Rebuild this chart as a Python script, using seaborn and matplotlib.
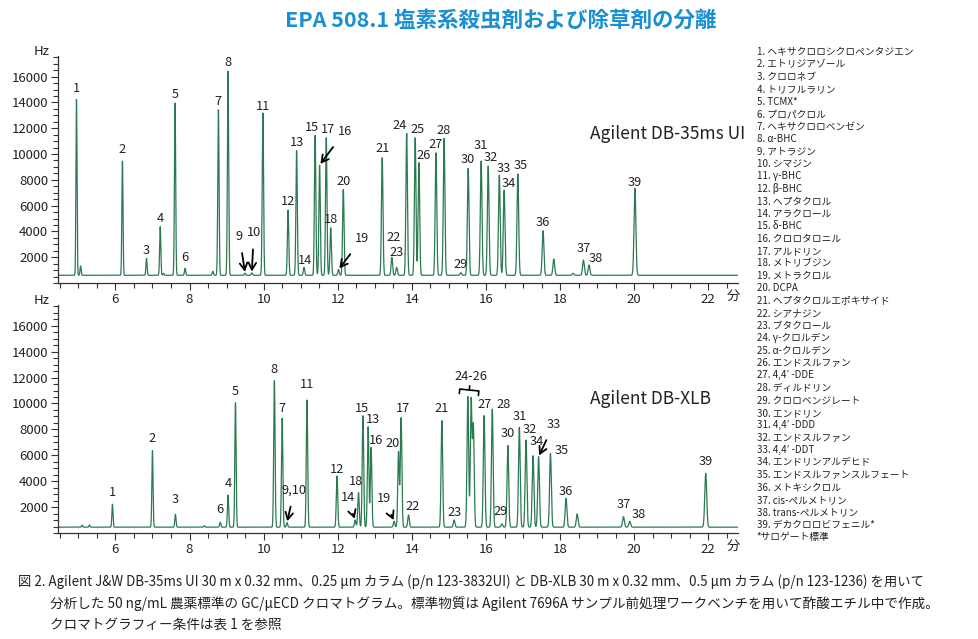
import numpy as np
import matplotlib
matplotlib.use("Agg")
import matplotlib.pyplot as plt
from matplotlib.ticker import MultipleLocator, FixedLocator
import seaborn as sns

# peak tables (retention time in min, apex in Hz)
top_labels = [str(i) for i in range(1, 40)]
top_rt = [4.95, 6.19, 6.84, 7.21, 7.61, 7.88, 8.78, 9.04, 9.50, 9.68,
          9.98, 10.66, 10.89, 11.09, 11.39, 11.51, 11.69, 11.81, 12.02, 12.15,
          13.20, 13.46, 13.59, 13.86, 14.09, 14.19, 14.65, 14.87, 15.32, 15.52,
          15.87, 16.06, 16.36, 16.49, 16.86, 17.54, 18.63, 18.78, 20.02]
top_hz = [14240, 9480, 1910, 4370, 13980, 1140, 13460, 16430, 760, 780,
          13200, 5660, 10260, 1220, 11450, 9150, 11260, 4290, 1050, 7260,
          9710, 1990, 1220, 11600, 11260, 9330, 10100, 11210, 800, 8890,
          9460, 9070, 8370, 7210, 8450, 4050, 1780, 1400, 7340]
top_minor_rt = [5.06, 7.30, 8.63, 17.83, 18.35]
top_minor_hz = [1320, 750, 900, 1860, 750]
top_base = 600

bot_labels = ["1", "2", "3", "4", "5", "6", "7", "8", "9,10", "11", "12", "13",
              "14", "15", "16", "17", "18", "19", "20", "21", "22", "23",
              "", "", "", "27", "28", "29", "30", "31", "32", "33", "34", "35",
              "36", "37", "38", "39"]
bot_rt = [5.92, 7.00, 7.62, 9.04, 9.24, 8.83, 10.50, 10.29, 10.63, 11.17, 11.98, 12.82,
          12.47, 12.68, 12.90, 13.71, 12.56, 13.52, 13.64, 14.81, 13.91, 15.14,
          15.51, 15.60, 15.66, 15.95, 16.17, 16.43, 16.59, 16.90, 17.08, 17.42, 17.27, 17.74,
          18.16, 19.71, 19.88, 21.93]
bot_hz = [2220, 6360, 1440, 2930, 10060, 830, 8850, 11760, 800, 10270, 4400, 8210,
          1000, 9060, 6620, 8900, 3140, 900, 6280, 8670, 1390, 1000,
          10530, 10270, 8260, 9060, 9570, 700, 6750, 8160, 7180, 5890, 5970, 6150,
          2680, 1260, 900, 4610]
bot_minor_rt = [5.10, 5.30, 8.40, 18.46]
bot_minor_hz = [600, 620, 560, 1470]
bot_base = 450

compounds = ["1. ヘキサクロロシクロペンタジエン", "2. エトリジアゾール", "3. クロロネブ",
             "4. トリフルラリン", "5. TCMX*", "6. プロパクロル", "7. ヘキサクロロベンゼン",
             "8. α-BHC", "9. アトラジン", "10. シマジン", "11. γ-BHC", "12. β-BHC",
             "13. ヘプタクロル", "14. アラクロール", "15. δ-BHC", "16. クロロタロニル",
             "17. アルドリン", "18. メトリブジン", "19. メトラクロル", "20. DCPA",
             "21. ヘプタクロルエポキサイド", "22. シアナジン", "23. ブタクロール",
             "24. γ-クロルデン", "25. α-クロルデン", "26. エンドスルファン", "27. 4,4’ -DDE",
             "28. ディルドリン", "29. クロロベンジレート", "30. エンドリン", "31. 4,4’ -DDD",
             "32. エンドスルファン", "33. 4,4’ -DDT", "34. エンドリンアルデヒド",
             "35. エンドスルファンスルフェート", "36. メトキシクロル", "37. cis-ペルメトリン",
             "38. trans-ペルメトリン", "39. デカクロロビフェニル*", "*サロゲート標準"]

caption = ["図 2. Agilent J&W DB-35ms UI 30 m x 0.32 mm、0.25 µm カラム (p/n 123-3832UI) と DB-XLB 30 m x 0.32 mm、0.5 µm カラム (p/n 123-1236) を用いて",
           "分析した 50 ng/mL 農薬標準の GC/µECD クロマトグラム。標準物質は Agilent 7696A サンプル前処理ワークベンチを用いて酢酸エチル中で作成。",
           "クロマトグラフィー条件は表 1 を参照"]

sns.set_style("ticks")
narrow = ["Noto Sans CJK JP", "DejaVu Sans"]
plt.rcParams["font.family"] = narrow

line_color = "#2b7a50"
text_color = "#222222"
t_min, t_max = 4.45, 22.8


def chromatogram(rt, hz, base):
    t = np.linspace(t_min, t_max, 8000)
    y = np.full_like(t, float(base))
    for r, h in zip(rt, hz):
        s = 0.011 + 0.0007 * r
        y += (h - base) * np.exp(-0.5 * ((t - r) / s) ** 2)
    return t, y


def style_axis(ax):
    ax.set_xlim(t_min, t_max)
    ax.set_ylim(0, 17600)
    sns.despine(ax=ax)
    ax.xaxis.set_major_locator(FixedLocator(range(6, 23, 2)))
    ax.xaxis.set_minor_locator(MultipleLocator(0.5))
    ax.yaxis.set_major_locator(FixedLocator(range(2000, 17000, 2000)))
    ax.yaxis.set_minor_locator(MultipleLocator(500))
    ax.tick_params(which="both", direction="out", color="#333333", width=0.8)
    ax.tick_params(which="major", length=5, labelsize=9.5, labelcolor=text_color, pad=2)
    ax.tick_params(which="minor", length=3.5)
    for sp in ax.spines.values():
        sp.set_color("#333333")
        sp.set_linewidth(0.9)
    ax.set_xlabel("")
    ax.set_ylabel("")
    ax.text(-0.012, 1.02, "Hz", transform=ax.transAxes, ha="right", va="center",
            fontsize=9.5, color=text_color)
    ax.text(22.5, -0.058, "分", transform=ax.get_xaxis_transform(), ha="left", va="center",
            fontsize=9.5, color=text_color)


def label_peaks(ax, labels, rt, hz, offsets, arrows, default):
    for lab, r, h in zip(labels, rt, hz):
        if not lab:
            continue
        dx, dy = offsets.get(lab, default)
        props = None
        if lab in arrows:
            props = dict(arrowstyle="->,head_length=0.55,head_width=0.3", color="black",
                         lw=1.3, shrinkA=5, shrinkB=1)
        ax.annotate(lab, xy=(r, h), xytext=(dx, dy), textcoords="offset points",
                    ha="center", va="center", fontsize=9.2, color=text_color,
                    arrowprops=props)


fig = plt.figure(figsize=(9.79, 6.39), dpi=100)
ax_top = fig.add_axes([0.0592, 0.5571, 0.6946, 0.3552])
ax_bot = fig.add_axes([0.0592, 0.1659, 0.6946, 0.3567])

t, y = chromatogram(top_rt + top_minor_rt, top_hz + top_minor_hz, top_base)
sns.lineplot(x=t, y=y, ax=ax_top, color=line_color, lw=0.9)
t, y = chromatogram(bot_rt + bot_minor_rt, bot_hz + bot_minor_hz, bot_base)
sns.lineplot(x=t, y=y, ax=ax_bot, color=line_color, lw=0.9)

for ax in (ax_top, ax_bot):
    style_axis(ax)

top_offsets = {"1": (0, 8), "2": (0, 8.4), "3": (0, 5.5), "6": (0, 8), "9": (-4, 26.5),
               "10": (1.5, 29), "11": (0, 4.5), "14": (1, 5), "15": (-2, 6), "16": (18, 24),
               "17": (1.5, 6.3), "19": (17, 22),
               "21": (0, 7), "22": (1.5, 14), "23": (0, 11), "24": (-5, 6), "25": (2, 6),
               "26": (3.6, 5), "30": (0, 6.7), "31": (0, 11), "32": (2, 6.5), "33": (3, 5),
               "34": (3, 4.5), "35": (2, 5.8), "37": (0, 8), "38": (5, 5), "39": (0, 4.5)}
label_peaks(ax_top, top_labels, top_rt, top_hz, top_offsets,
            ["9", "10", "16", "19"], (0, 6))

bot_offsets = {"3": (0, 10.8), "6": (0, 9.4), "7": (0, 7.2), "8": (0, 8), "5": (0, 8),
               "9,10": (5.3, 23.5), "11": (0, 10.8), "12": (0, 4.8), "13": (3.6, 5),
               "14": (-5.5, 16.3), "15": (-1, 5), "16": (3.6, 5), "17": (1, 6.7),
               "18": (-2, 7.6), "19": (-7, 16.3), "20": (-4.3, 6), "22": (2.9, 6),
               "23": (0.7, 5.5), "27": (0, 8), "28": (8, 3), "29": (-1, 8.6), "31": (0, 8),
               "32": (3, 7.6), "33": (11, 23.5), "34": (2.5, 10.5), "35": (8, 2.4),
               "36": (0, 5), "38": (6.5, 5)}
label_peaks(ax_bot, bot_labels, bot_rt, bot_hz, bot_offsets,
            ["9,10", "14", "19", "33"], (0, 8.6))

# group label for the co-eluting 24-26 on DB-XLB
ax_bot.annotate("24-26", xy=(15.55, 11040), xytext=(1, 10), textcoords="offset points",
                ha="center", va="center", fontsize=9.2, color=text_color,
                arrowprops=dict(arrowstyle="-[,widthB=0.75,lengthB=0.35", color="black",
                                lw=1.2, shrinkA=3, shrinkB=0))

ax_top.text(1.01, 0.658, "Agilent DB-35ms UI", transform=ax_top.transAxes,
            ha="right", va="center", fontsize=12.5, color=text_color)
ax_bot.text(0.782, 0.588, "Agilent DB-XLB", transform=ax_bot.transAxes,
            ha="left", va="center", fontsize=12.5, color=text_color)

fig.text(0.511, 0.969, "EPA 508.1 塩素系殺虫剤および除草剤の分離", ha="center", va="center",
         fontsize=15.5, fontweight="bold", color="#1a8fd2")

for i, item in enumerate(compounds):
    fig.text(0.773, 1 - (52 + i * 12.44) / 639, item, ha="left", va="center",
             fontsize=7, color=text_color)

fig.text(0.0184, 1 - 582 / 639, caption[0], ha="left", va="center", fontsize=9.6,
         color=text_color)
fig.text(0.0511, 1 - 604 / 639, caption[1], ha="left", va="center", fontsize=9.8,
         color=text_color)
fig.text(0.0511, 1 - 626 / 639, caption[2], ha="left", va="center", fontsize=9.8,
         color=text_color)

fig.savefig("out.png", dpi=100)
